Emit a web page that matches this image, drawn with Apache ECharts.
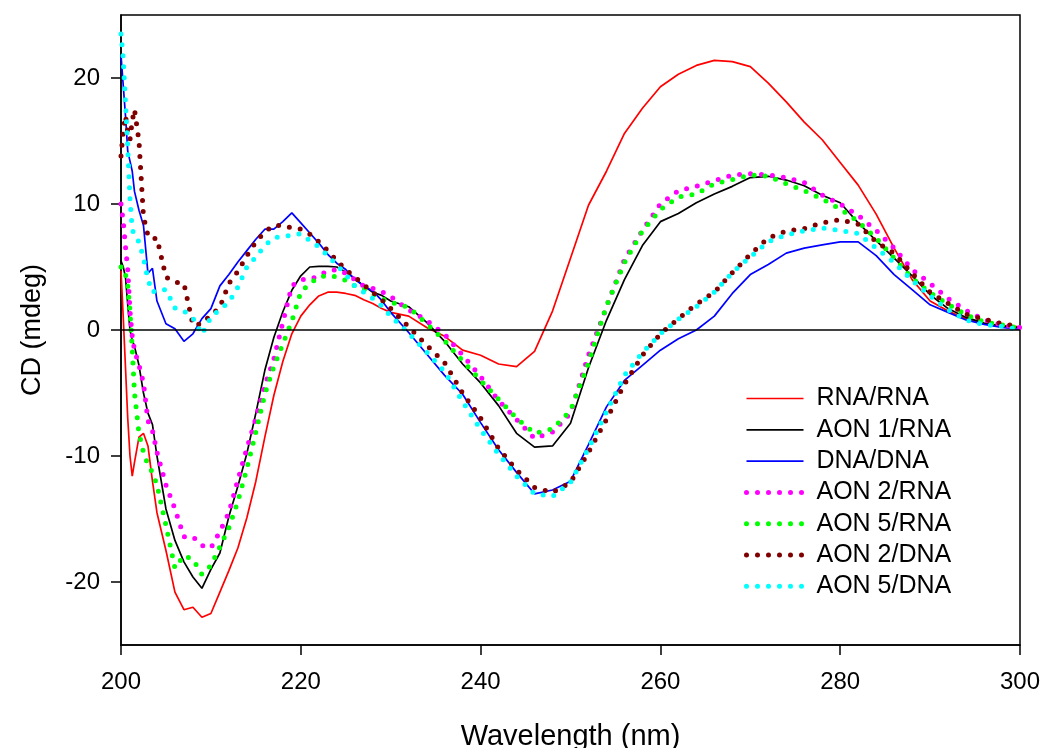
<!DOCTYPE html>
<html>
<head>
<meta charset="utf-8">
<title>CD spectra</title>
<script src="https://cdn.jsdelivr.net/npm/echarts@6.0.0/dist/echarts.min.js"></script>
<style>
    html, body { margin: 0; padding: 0; background: #fff; }
    #main { width: 1042px; height: 748px; }
</style>
</head>
<body>
<div id="main"></div>
<script>
// wavelength grid (nm), denser near 200 where the curves change fast
var wavelengths = [
    200, 200.25, 200.5, 200.75, 201, 201.25, 201.5, 202, 202.5, 203, 203.5, 204,
    205, 206, 207, 208, 209, 210, 211, 212, 213, 214, 215, 216, 217, 218, 219, 220,
    221, 222, 223, 224, 225, 226, 227, 228, 229, 230,
    232, 234, 236, 238, 240, 242, 244, 246, 248, 250, 252, 254, 256, 258, 260, 262,
    264, 266, 268, 270, 272, 274, 276, 278, 280, 282, 284, 286, 288, 290, 292, 294,
    296, 298, 300
]

// CD (mdeg)
var rnaRna = [
    4.7, 1.0, -3.0, -7.0, -10.0, -11.6, -10.5, -8.5, -8.2, -9.2, -12.0, -14.5,
    -17.5, -20.8, -22.2, -22.0, -22.8, -22.5, -20.8, -19.1, -17.3, -14.9, -12.0, -8.5, -5.2, -2.5, -0.3, 1.1,
    2.0, 2.7, 3.0, 3.0, 2.9, 2.75, 2.4, 2.1, 1.7, 1.4,
    1.1, 0.2, -0.5, -1.6, -2.0, -2.7, -2.9, -1.7, 1.5, 5.7, 9.9, 12.6, 15.6, 17.6, 19.3, 20.3,
    21.0, 21.4, 21.3, 20.9, 19.6, 18.1, 16.5, 15.1, 13.3, 11.5, 9.2, 6.5, 4.0, 2.3, 1.5, 0.9,
    0.5, 0.35, 0.25
]
var aon1Rna = [
    5.5, 5.0, 4.2, 2.0, 0.0, -0.8, -1.3, -2.8, -5.0, -6.6, -7.5, -10.0,
    -14.2, -16.7, -18.4, -19.6, -20.5, -19.0, -17.7, -14.8, -12.4, -9.8, -6.6, -3.2, -0.6, 1.45, 3.15, 4.3,
    5.0, 5.05, 5.05, 5.0, 4.6, 4.1, 3.5, 3.0, 2.75, 2.3,
    1.85, 0.6, -0.9, -2.7, -4.2, -6.0, -8.2, -9.3, -9.2, -7.4, -3.0, 0.77, 4.0, 6.7, 8.6, 9.25,
    10.1, 10.8, 11.4, 12.1, 12.2, 11.9, 11.45, 10.7, 10.1, 8.5, 7.1, 5.7, 4.3, 2.8, 1.7, 1.0,
    0.55, 0.3, 0.2
]
var dnaDna = [
    21.8, 19.4, 17.0, 14.2, 13.4, 12.6, 11.0, 9.5, 8.3, 4.5, 4.9, 2.3,
    0.5, 0.1, -0.9, -0.3, 0.9, 1.7, 3.5, 4.4, 5.4, 6.3, 7.2, 8.0, 8.0, 8.6, 9.3, 8.5,
    7.7, 6.9, 6.0, 5.3, 4.8, 4.0, 3.5, 3.1, 2.35, 1.4,
    -0.2, -1.9, -3.6, -5.1, -7.35, -9.5, -11.3, -13.0, -12.7, -12.0, -9.1, -6.1, -4.0, -2.8, -1.6, -0.7,
    0.0, 1.1, 2.9, 4.4, 5.2, 6.1, 6.5, 6.75, 7.0, 7.0, 5.9, 4.4, 3.2, 2.0, 1.4, 0.8,
    0.45, 0.2, 0.05
]
var aon2Rna = [
    10.0, 8.6, 6.6, 4.8, 1.5, -0.5, -1.6, -2.8, -4.2, -7.2, -8.0, -9.7,
    -12.3, -14.2, -16.4, -16.4, -17.1, -17.3, -16.0, -14.5, -11.9, -9.4, -7.0, -4.4, -2.3, 0.6, 3.5, 4.0,
    4.0, 4.3, 4.7, 4.8, 4.5, 4.0, 3.5, 3.3, 3.05, 2.65,
    1.6, 0.77, -0.35, -2.0, -3.7, -5.6, -7.1, -8.6, -8.1, -6.6, -2.0, 1.83, 5.6, 7.9, 10.0, 11.05,
    11.4, 11.85, 12.3, 12.4, 12.3, 12.1, 11.7, 10.7, 10.0, 9.1, 7.9, 6.5, 4.8, 3.7, 2.5, 1.55,
    0.8, 0.4, 0.2
]
var aon5Rna = [
    5.0, 5.0, 4.4, 3.6, 1.5, -1.5, -5.0, -8.2, -9.7, -10.7, -11.3, -12.3,
    -15.5, -18.9, -17.9, -18.2, -19.4, -18.7, -17.2, -15.7, -13.6, -11.0, -8.1, -5.1, -2.9, -1.1, 0.7, 3.0,
    3.7, 4.2, 4.34, 4.2, 3.95, 3.5, 3.25, 2.85, 2.5, 2.2,
    1.8, 0.5, -0.85, -2.45, -4.0, -5.5, -7.0, -8.2, -7.85, -6.4, -2.6, 1.9, 5.35, 7.85, 9.55, 10.55,
    10.8, 11.6, 11.94, 12.3, 12.2, 11.6, 11.05, 10.4, 9.6, 8.6, 7.3, 5.7, 4.1, 2.95, 2.05, 1.2,
    0.65, 0.4, 0.15
]
var aon2Dna = [
    13.8, 15.8, 17.0, 15.7, 15.1, 16.6, 17.5, 15.0, 9.0, 7.5, 7.2, 7.3,
    4.2, 3.8, 3.7, 0.4, 0.5, 1.2, 1.8, 3.7, 4.65, 5.9, 7.0, 7.8, 8.3, 8.3, 8.1, 8.0,
    7.6, 7.0, 6.3, 5.5, 4.8, 4.2, 3.6, 3.0, 2.4, 1.7,
    0.25, -1.2, -2.6, -5.0, -7.0, -9.4, -11.1, -12.5, -12.9, -12.1, -9.7, -7.1, -4.3, -2.0, -0.3, 0.9,
    2.05, 3.0, 4.55, 6.0, 7.3, 7.85, 8.05, 8.5, 8.75, 8.4, 7.0, 6.1, 4.5, 3.0, 2.1, 1.25,
    0.85, 0.5, 0.25
]
var aon5Dna = [
    23.5, 21.5, 18.0, 14.5, 10.4, 8.0, 7.5, 7.0, 5.7, 4.0, 3.0, 3.2,
    3.2, 1.75, 1.5, 0.95, -0.35, 1.0, 1.65, 2.2, 3.4, 5.0, 5.8, 6.7, 7.3, 7.45, 7.5, 7.65,
    7.1, 6.6, 5.9, 5.15, 4.4, 3.5, 3.0, 2.5, 1.9, 1.1,
    -0.25, -1.75, -3.3, -5.7, -7.9, -9.85, -11.6, -13.0, -13.2, -12.1, -9.4, -6.5, -3.6, -1.8, -0.3, 0.85,
    1.85, 3.0, 4.55, 5.8, 7.0, 7.55, 7.86, 8.1, 7.9, 7.65, 6.5, 5.35, 3.95, 2.7, 1.6, 0.8,
    0.42, 0.3, 0.0
]

var names = ['RNA/RNA', 'AON 1/RNA', 'DNA/DNA', 'AON 2/RNA', 'AON 5/RNA', 'AON 2/DNA', 'AON 5/DNA']
var colors = ['#ff0000', '#000000', '#0000ff', '#ff00ff', '#00ff00', '#800000', '#00ffff']
var values = [rnaRna, aon1Rna, dnaDna, aon2Rna, aon5Rna, aon2Dna, aon5Dna]
var dotted = [false, false, false, true, true, true, true]

var yLabels = [-20, -10, 0, 10, 20]

var font = 'Liberation Sans, Arial, sans-serif'

var pairs = function(list) {
    var out = []
    for (var i = 0; i < wavelengths.length; i++) {
        out.push([wavelengths[i], list[i]])
    }
    return out
}

var series = []
for (var i = 0; i < names.length; i++) {
    var s = {
        name: names[i],
        type: 'line',
        data: pairs(values[i]),
        symbol: 'none',
        showSymbol: false,
        silent: true,
        color: colors[i],
        lineStyle: dotted[i]
            ? {color: colors[i], width: 5, type: [0, 11], cap: 'round'}
            : {color: colors[i], width: 1.7}
    }
    if (i === 0) {
        // horizontal zero line
        s.markLine = {
            silent: true,
            symbol: ['none', 'none'],
            label: {show: false},
            lineStyle: {color: '#000', width: 1.5, type: 'solid'},
            data: [{yAxis: 0}]
        }
    }
    series.push(s)
}

var element = document.querySelector('#main')
var myChart = echarts.init(element)

var option = {
    animation: false,
    backgroundColor: '#fff',
    grid: {
        left: 121,
        right: 22,
        top: 15,
        bottom: 103,
        outerBoundsMode: 'none',
        show: true,
        borderColor: '#000',
        borderWidth: 1.5
    },
    legend: {
        orient: 'vertical',
        left: 739,
        top: 381,
        itemWidth: 57,
        itemHeight: 14,
        itemGap: 6.3,
        selectedMode: false,
        data: names,
        // hide the marker in the middle, keep the (dotted) line sample
        itemStyle: {opacity: 0},
        lineStyle: {width: 'inherit'},
        textStyle: {
            fontFamily: font,
            fontSize: 25,
            lineHeight: 25,
            color: '#000',
            padding: [0, 0, 0, 8]
        }
    },
    xAxis: {
        type: 'value',
        min: 200,
        max: 300,
        interval: 20,
        name: 'Wavelength (nm)',
        nameLocation: 'middle',
        nameGap: 77,
        nameTextStyle: {fontFamily: font, fontSize: 29, color: '#000'},
        splitLine: {show: false},
        axisLine: {onZero: false, lineStyle: {color: '#000', width: 1.5}},
        axisTick: {inside: false, length: 10, lineStyle: {color: '#000', width: 1.5}},
        axisLabel: {fontFamily: font, fontSize: 24, color: '#000', margin: 25}
    },
    yAxis: {
        type: 'value',
        min: -25,
        max: 25,
        interval: 5,
        name: 'CD (mdeg)',
        nameLocation: 'middle',
        nameGap: 75,
        nameRotate: 90,
        nameTextStyle: {fontFamily: font, fontSize: 27, color: '#000'},
        splitLine: {show: false},
        axisLine: {show: true, onZero: false, lineStyle: {color: '#000', width: 1.5}},
        axisTick: {show: true, inside: false, length: 10, customValues: yLabels, lineStyle: {color: '#000', width: 1.5}},
        axisLabel: {fontFamily: font, fontSize: 24, color: '#000', margin: 21, customValues: yLabels}
    },
    series: series
}

myChart.setOption(option)
</script>
</body>
</html>
